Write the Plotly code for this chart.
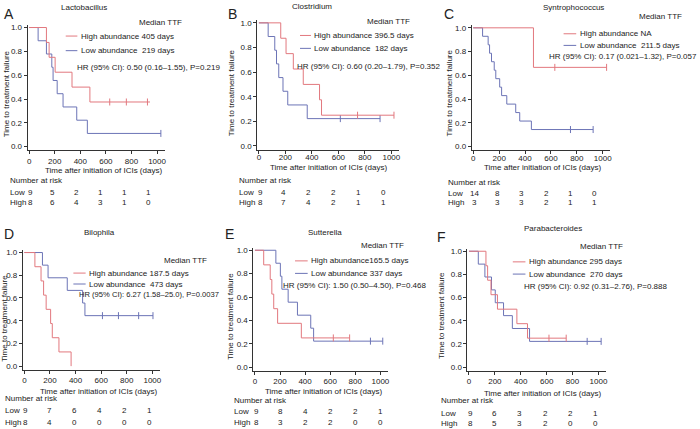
import plotly.graph_objects as go

W, H = 700, 429
RED = "#E2787E"
BLUE = "#6C74B6"
TXT = "#222222"
FONT = "Liberation Sans"

# ---------------- data ----------------
risk_times = [0, 200, 400, 600, 800, 1000]
x_ticks = [0, 200, 400, 600, 800, 1000]
y_ticks = [0.0, 0.2, 0.4, 0.6, 0.8, 1.0]

# A  Lactobacillus
A_high_t = [135, 156, 203, 335, 475]
A_high_s = [0.875, 0.75, 0.625, 0.5, 0.375]
A_high_c = [630, 760, 925]
A_high_end = 945
A_low_t = [70, 135, 177, 187, 219, 265, 372, 455]
A_low_s = [8/9, 7/9, 6/9, 5/9, 4/9, 3/9, 2/9, 1/9]
A_low_c = [1030]
A_low_end = 1030
A_risk_low = [9, 5, 2, 1, 1, 1]
A_risk_high = [8, 6, 4, 3, 1, 0]

# B  Clostridium
B_high_t = [165, 205, 260, 335, 458, 473]
B_high_s = [0.875, 0.75, 0.625, 0.5, 0.375, 0.25]
B_high_c = [745, 1020]
B_high_end = 1020
B_low_t = [70, 120, 133, 150, 182, 218, 365]
B_low_s = [8/9, 7/9, 6/9, 5/9, 4/9, 3/9, 2/9]
B_low_c = [615, 915]
B_low_end = 915
B_risk_low = [9, 4, 2, 2, 1, 0]
B_risk_high = [8, 7, 4, 2, 1, 1]

# C  Syntrophococcus
C_high_t = [465]
C_high_s = [2/3]
C_high_c = [630, 1030]
C_high_end = 1030
C_low_t = [72, 115, 126, 141, 162, 174, 204, 219, 259, 328, 359, 449]
C_low_s = [13/14, 12/14, 11/14, 10/14, 9/14, 8/14, 7/14, 6/14, 5/14, 4/14, 3/14, 2/14]
C_low_c = [751, 926]
C_low_end = 926
C_risk_low = [14, 8, 3, 2, 1, 0]
C_risk_high = [3, 3, 3, 2, 1, 1]

# D  Bilophila
D_high_t = [82, 130, 150, 170, 205, 218, 270, 365]
D_high_s = [0.875, 0.75, 0.625, 0.5, 0.375, 0.25, 0.125, 0.0]
D_high_c = []
D_high_end = 365
D_low_t = [141, 185, 335, 455, 473]
D_low_s = [8/9, 7/9, 6/9, 5/9, 4/9]
D_low_c = [610, 735, 893, 1005]
D_low_end = 1005
D_risk_low = [9, 7, 6, 4, 2, 1]
D_risk_high = [8, 4, 0, 0, 0, 0]

# E  Sutterella
E_high_t = [70, 122, 135, 150, 181, 370]
E_high_s = [0.875, 0.75, 0.625, 0.5, 0.375, 0.25]
E_high_c = [625, 755]
E_high_end = 755
E_low_t = [167, 203, 215, 265, 339, 445, 468]
E_low_s = [8/9, 7/9, 6/9, 5/9, 4/9, 3/9, 2/9]
E_low_c = [921, 1019]
E_low_end = 1019
E_risk_low = [9, 8, 4, 2, 2, 1]
E_risk_high = [8, 3, 2, 2, 0, 0]

# F  Parabacteroides
F_high_t = [131, 144, 170, 220, 370, 452]
F_high_s = [0.875, 0.75, 0.625, 0.5, 0.375, 0.25]
F_high_c = [618, 751]
F_high_end = 751
F_low_t = [72, 123, 174, 203, 267, 335, 468]
F_low_s = [8/9, 7/9, 6/9, 5/9, 4/9, 3/9, 2/9]
F_low_c = [913, 1021]
F_low_end = 1021
F_risk_low = [9, 6, 3, 2, 2, 1]
F_risk_high = [8, 5, 3, 2, 0, 0]

titles = ["Lactobacillus", "Clostridium", "Syntrophococcus", "Bilophila", "Sutterella", "Parabacteroides"]
letters = ["A", "B", "C", "D", "E", "F"]
high_labels = ["High abundance 405 days", "High abundance 396.5 days", "High abundance NA",
               "High abundance 187.5 days", "High abundance165.5 days", "High abundance 295 days"]
low_labels = ["Low abundance  219 days", "Low abundance  182 days", "Low abundance  211.5 days",
              "Low abundance  473 days", "Low abundance 337 days", "Low abundance  270 days"]
hr_labels = ["HR (95% CI): 0.50 (0.16–1.55), P=0.219",
             "HR (95% CI): 0.60 (0.20–1.79), P=0.352",
             "HR (95% CI): 0.17 (0.021–1.32), P=0.057",
             "HR (95% CI): 6.27 (1.58–25.0), P=0.0037",
             "HR (95% CI): 1.50 (0.50–4.50), P=0.468",
             "HR (95% CI): 0.92 (0.31–2.76), P=0.888"]

curves = [
    (A_high_t, A_high_s, A_high_c, A_high_end, A_low_t, A_low_s, A_low_c, A_low_end, A_risk_low, A_risk_high),
    (B_high_t, B_high_s, B_high_c, B_high_end, B_low_t, B_low_s, B_low_c, B_low_end, B_risk_low, B_risk_high),
    (C_high_t, C_high_s, C_high_c, C_high_end, C_low_t, C_low_s, C_low_c, C_low_end, C_risk_low, C_risk_high),
    (D_high_t, D_high_s, D_high_c, D_high_end, D_low_t, D_low_s, D_low_c, D_low_end, D_risk_low, D_risk_high),
    (E_high_t, E_high_s, E_high_c, E_high_end, E_low_t, E_low_s, E_low_c, E_low_end, E_risk_low, E_risk_high),
    (F_high_t, F_high_s, F_high_c, F_high_end, F_low_t, F_low_s, F_low_c, F_low_end, F_risk_low, F_risk_high),
]

# ---------------- layout geometry (pixels) ----------------
XR = [-12, 1060]
YR = [-0.03, 1.02]
geo = [
    # x0, x1000, y1, y0, label standoff
    dict(x0=28.3, x1k=156.7, y1=25.7, y0=145.7, so=0),
    dict(x0=259.0, x1k=392.0, y1=21.0, y0=145.0, so=-3),
    dict(x0=474.3, x1k=604.3, y1=26.0, y0=145.5, so=-3),
    dict(x0=23.5, x1k=152.0, y1=252.3, y0=366.7, so=0),
    dict(x0=255.0, x1k=381.0, y1=250.0, y0=367.7, so=0),
    dict(x0=470.0, x1k=600.0, y1=251.0, y0=367.7, so=0),
]
txt = [
    dict(let=(8, 11.7), title=(83.3, 5.7), med=(136.7, 21), l1=(65, 76.7, 34.3), l2=(65, 76.7, 49),
         hr=(74, 65.7), hs=8, yt=(5, 92), xt=(102.5, 169.3), nr=(7.3, 180), rl=191.7, rh=201.7, rf=0.93),
    dict(let=(232, 11.7), title=(312, 5.0), med=(365.3, 20), l1=(300.3, 311.3, 33.7), l2=(300.3, 311.3, 46.7),
         hr=(295.3, 65), hs=8, yt=(231, 92), xt=(328.7, 167), nr=(237, 180), rl=191.7, rh=202, rf=0.94),
    dict(let=(450, 11.7), title=(575, 5.7), med=(638.3, 15), l1=(565, 577.7, 32), l2=(565, 577.7, 43.7),
         hr=(548.3, 55), hs=8, yt=(450, 92), xt=(543.5, 167), nr=(447, 181.7), rl=192.7, rh=202.3, rf=0.94),
    dict(let=(8, 234), title=(99, 232.3), med=(161.7, 260.7), l1=(72.7, 85, 273), l2=(72.7, 85, 284),
         hr=(76, 295), hs=7.6, yt=(4, 318), xt=(97.7, 392.3), nr=(1.7, 399), rl=411.7, rh=423.3, rf=0.98),
    dict(let=(229.5, 234), title=(325, 232.3), med=(359.7, 245), l1=(295.3, 308, 260.7), l2=(295.3, 308, 273.3),
         hr=(281.3, 285.7), hs=8, yt=(231, 317), xt=(323.7, 392.3), nr=(232, 401.7), rl=412.3, rh=423.3, rf=1.0),
    dict(let=(442, 237), title=(554.7, 228), med=(579.3, 246.3), l1=(514, 526.7, 261.7), l2=(514, 526.7, 274),
         hr=(523.3, 286.7), hs=8, yt=(443, 316), xt=(543.5, 394), nr=(440.3, 401.7), rl=414, rh=424.7, rf=0.98),
]


def px(x):
    return x / W


def py(y):
    return 1 - y / H


def surv_at(times, survs, t):
    s = 1.0
    for ti, si in zip(times, survs):
        if ti <= t:
            s = si
    return s


fig = go.Figure()
annotations = []
shapes = []

for i in range(6):
    g = geo[i]
    T = txt[i]
    n = i + 1
    xa = "x" if n == 1 else f"x{n}"
    ya = "y" if n == 1 else f"y{n}"
    sx = (g["x1k"] - g["x0"]) / 1000.0
    sy = (g["y0"] - g["y1"])
    left = g["x0"] + XR[0] * sx
    right = g["x0"] + XR[1] * sx
    top = g["y0"] - YR[1] * sy
    bot = g["y0"] - YR[0] * sy
    axis_common = dict(showline=True, linecolor="#333", linewidth=1, ticks="outside", ticklen=3,
                       tickwidth=1, tickcolor="#333", showgrid=False, zeroline=False,
                       tickfont=dict(family=FONT, size=8, color=TXT))
    fig.layout[f"xaxis{'' if n == 1 else n}"] = dict(domain=[px(left), px(right)], range=XR, anchor=ya,
                                                     tickvals=x_ticks, ticklabelstandoff=g["so"],
                                                     **axis_common)
    fig.layout[f"yaxis{'' if n == 1 else n}"] = dict(domain=[py(bot), py(top)], range=YR, anchor=xa,
                                                     tickvals=y_ticks, tickformat=".1f", **axis_common)

    ht, hs, hc, hend, lt, ls, lc, lend, rlow, rhigh = curves[i]
    for (t, s, c, end, col) in [(lt, ls, lc, lend, BLUE), (ht, hs, hc, hend, RED)]:
        xs = [0] + list(t) + [end]
        ys = [1.0] + list(s) + [s[-1]]
        fig.add_trace(go.Scatter(x=xs, y=ys, mode="lines", line=dict(color=col, width=1, shape="hv"),
                                 xaxis=xa, yaxis=ya, showlegend=False, hoverinfo="skip"))
        if c:
            fig.add_trace(go.Scatter(x=c, y=[surv_at(t, s, ci) for ci in c], mode="markers",
                                     marker=dict(symbol="line-ns-open", size=5, color=col,
                                                 line=dict(color=col, width=1)),
                                     xaxis=xa, yaxis=ya, showlegend=False, hoverinfo="skip"))

    def ann(x, y, text, size=8, xanchor="left", **kw):
        annotations.append(dict(x=px(x), y=py(y), xref="paper", yref="paper", text=text, showarrow=False,
                                xanchor=xanchor, yanchor="middle",
                                font=dict(family=FONT, size=size, color=TXT), **kw))

    ann(T["let"][0], T["let"][1], letters[i], size=14, xanchor="center")
    ann(T["title"][0], T["title"][1], titles[i], xanchor="center")
    ann(T["med"][0], T["med"][1], "Median TTF")
    ann(T["l1"][1] + 1.5, T["l1"][2], high_labels[i])
    ann(T["l2"][1] + 1.5, T["l2"][2], low_labels[i])
    shapes.append(dict(type="line", xref="paper", yref="paper", x0=px(T["l1"][0]), x1=px(T["l1"][1]),
                       y0=py(T["l1"][2]), y1=py(T["l1"][2]), line=dict(color=RED, width=1)))
    shapes.append(dict(type="line", xref="paper", yref="paper", x0=px(T["l2"][0]), x1=px(T["l2"][1]),
                       y0=py(T["l2"][2]), y1=py(T["l2"][2]), line=dict(color=BLUE, width=1)))
    ann(T["hr"][0], T["hr"][1], hr_labels[i], size=T["hs"])
    ann(T["yt"][0], T["yt"][1], "Time to treatment failure", xanchor="center", textangle=-90)
    ann(T["xt"][0], T["xt"][1], "Time after initiation of ICIs (days)", xanchor="center")
    ann(T["nr"][0], T["nr"][1], "Number at risk")
    ann(T["nr"][0], T["rl"], "Low")
    ann(T["nr"][0], T["rh"], "High")
    for k, (rt, vl, vh) in enumerate(zip(risk_times, rlow, rhigh)):
        xpos = rt * T["rf"] + (12 if k == 0 else 0)
        for yv, v in [(T["rl"], vl), (T["rh"], vh)]:
            annotations.append(dict(x=xpos, y=py(yv), xref=xa, yref="paper", text=str(v),
                                    showarrow=False, xanchor="center", yanchor="middle",
                                    font=dict(family=FONT, size=8, color=TXT)))

fig.update_layout(width=W, height=H, autosize=False, margin=dict(l=0, r=0, t=0, b=0),
                  paper_bgcolor="white", plot_bgcolor="white", annotations=annotations, shapes=shapes,
                  showlegend=False)
fig.write_html("out.html", config={"displayModeBar": False},
               post_script="document.body.style.margin='0px';document.body.style.padding='0px';")
